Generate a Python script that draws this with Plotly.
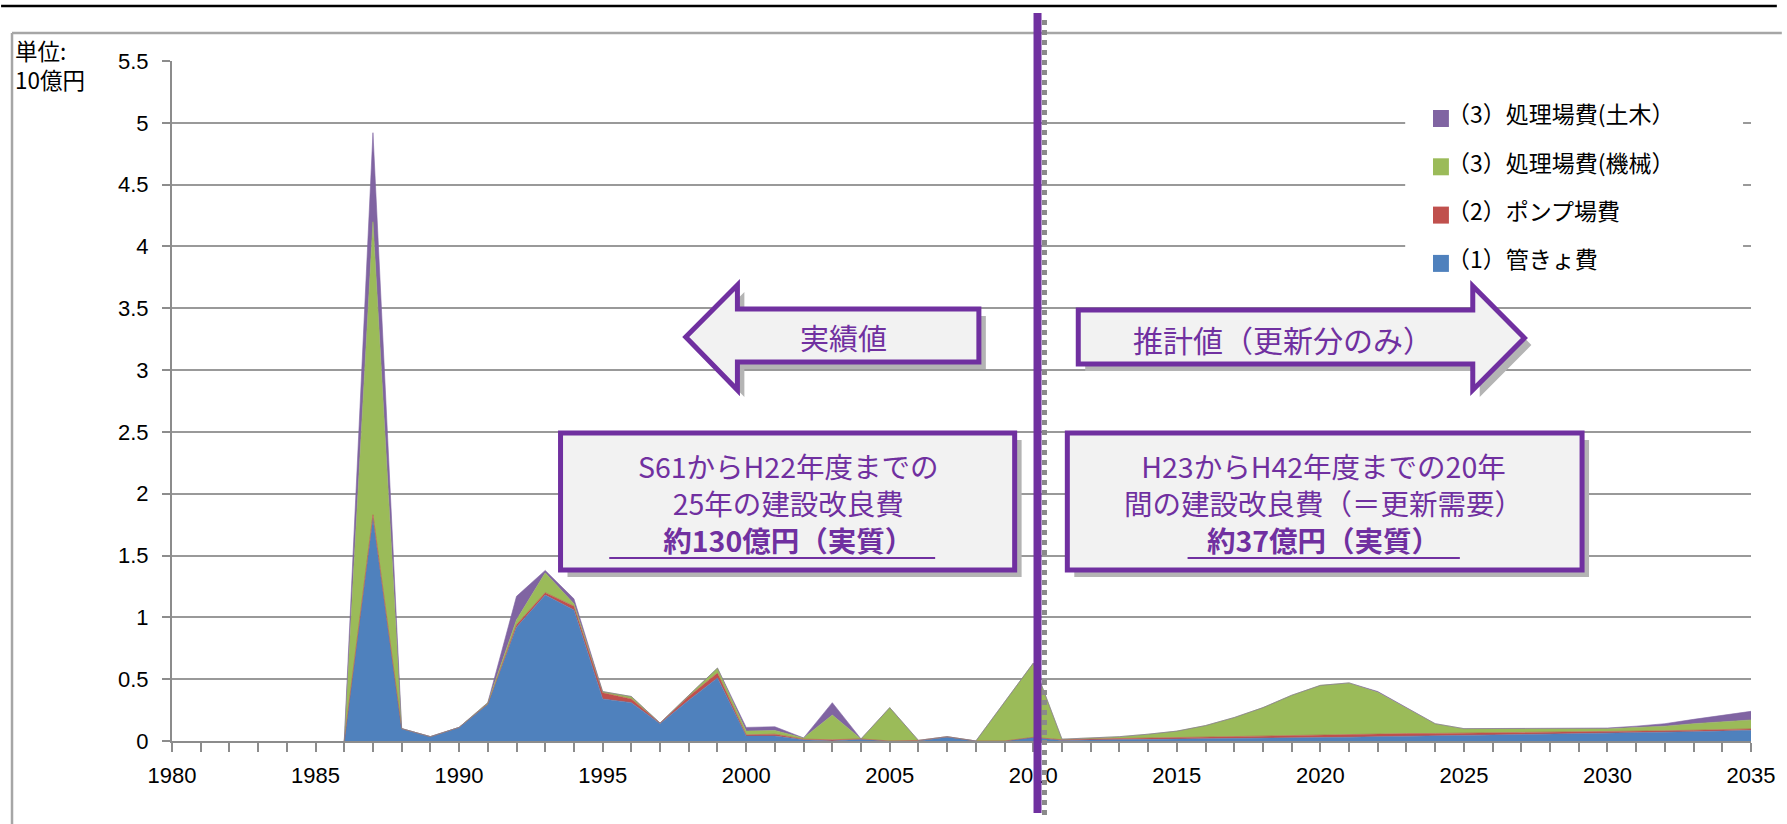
import plotly.graph_objects as go

years = list(range(1986, 2036))

kankyo = [0, 1.80, 0.10, 0.035, 0.11, 0.30, 0.92, 1.18, 1.06, 0.34,
          0.31, 0.14, 0.33, 0.51, 0.04, 0.04, 0.01, 0.0, 0.014, 0.0,
          0.0, 0.03, 0.0, 0.0, 0.03, 0.005, 0.008, 0.01, 0.012, 0.015,
          0.018, 0.02, 0.022, 0.025, 0.027, 0.03, 0.035, 0.04, 0.043, 0.046,
          0.049, 0.052, 0.055, 0.057, 0.06, 0.065, 0.07, 0.075, 0.08, 0.087]

pump = [0, 0.03, 0, 0, 0, 0, 0.02, 0.02, 0.03, 0.05,
        0.03, 0.005, 0.03, 0.04, 0.01, 0.015, 0.005, 0.01, 0.003, 0,
        0.005, 0.005, 0, 0, 0, 0.005, 0.008, 0.01, 0.012, 0.012,
        0.013, 0.015, 0.018, 0.02, 0.025, 0.025, 0.022, 0.02, 0.018, 0.017,
        0.016, 0.016, 0.016, 0.015, 0.015, 0.014, 0.013, 0.012, 0.011, 0.011]

kikai = [0, 2.37, 0, 0, 0, 0.01, 0.04, 0.16, 0.02, 0.01,
         0.02, 0, 0.01, 0.04, 0.03, 0.03, 0.01, 0.20, 0, 0.27,
         0, 0, 0, 0.31, 0.60, 0.005, 0.006, 0.015, 0.031, 0.053,
         0.094, 0.155, 0.23, 0.325, 0.398, 0.415, 0.338, 0.21, 0.079, 0.037,
         0.035, 0.032, 0.029, 0.028, 0.025, 0.031, 0.037, 0.053, 0.064, 0.072]

doboku = [0, 0.72, 0, 0, 0, 0, 0.19, 0.02, 0.04, 0,
          0, 0, 0, 0, 0.03, 0.03, 0, 0.10, 0, 0,
          0, 0, 0, 0, 0, 0, 0, 0, 0, 0,
          0, 0, 0, 0, 0, 0, 0.005, 0, 0, 0,
          0, 0, 0, 0, 0.005, 0.01, 0.02, 0.035, 0.05, 0.07]

series = [
    ("（1）管きょ費", kankyo, "#4F81BD"),
    ("（2）ポンプ場費", pump, "#C0504D"),
    ("（3）処理場費(機械）", kikai, "#9BBB59"),
    ("（3）処理場費(土木）", doboku, "#8064A2"),
]

x_ticks = list(range(1980, 2036))
x_ticktext = [str(v) if v % 5 == 0 else "" for v in x_ticks]

PURPLE = "#7030A0"
JP = "Noto Sans CJK JP"

fig = go.Figure()
for name, vals, col in series:
    fig.add_trace(go.Scatter(
        x=years, y=vals, name=name, mode="lines", stackgroup="one",
        line=dict(width=0.6, color=col), fillcolor=col, showlegend=False,
        hoverinfo="x+y+name"))

# layout geometry (pixels)
L, T, W, H = 172, 61, 1589, 680
FW, FH = 1787, 824


def px(x):
    return (x - L) / W


def py(y):
    return (T + H - y) / H


shapes = []
annotations = []

# page decorations
shapes.append(dict(type="line", xref="paper", yref="paper", x0=px(0), x1=px(FW), y0=py(6), y1=py(6),
                   line=dict(color="black", width=2.5), layer="above"))
shapes.append(dict(type="line", xref="paper", yref="paper", x0=px(11), x1=px(FW + 5), y0=py(33), y1=py(33),
                   line=dict(color="#a6a6a6", width=2.5), layer="above"))
shapes.append(dict(type="line", xref="paper", yref="paper", x0=px(11), x1=px(11), y0=py(33), y1=py(FH + 5),
                   line=dict(color="#a6a6a6", width=2.5), layer="above"))

# legend (white box over gridlines)
shapes.append(dict(type="rect", xref="paper", yref="paper", x0=px(1413), x1=px(1753), y0=py(90), y1=py(288),
                   fillcolor="white", line=dict(width=0), layer="above"))
leg_y = [118.5, 166.8, 215.1, 263.4]
for (name, vals, col), yy in zip(reversed(series), leg_y):
    shapes.append(dict(type="rect", xref="paper", yref="paper", x0=px(1441), x1=px(1457),
                       y0=py(yy - 8.5), y1=py(yy + 8.5), fillcolor=col, line=dict(width=0), layer="above"))
    annotations.append(dict(xref="paper", yref="paper", x=px(1453), y=py(yy - 5), text=name,
                            showarrow=False, xanchor="left", yanchor="middle",
                            font=dict(family=JP, size=23, color="black")))

# unit label
annotations.append(dict(xref="paper", yref="paper", x=px(12), y=py(65), text="単位:<br>10億円", showarrow=False,
                        xanchor="left", yanchor="middle", align="left",
                        font=dict(family=JP, size=22.5, color="black")))


def poly(points):
    s = "M " + " L ".join(f"{px(a):.5f},{py(b):.5f}" for a, b in points) + " Z"
    return s


SH = "#b4b4b4"

# vertical divider
shapes.append(dict(type="line", xref="paper", yref="paper", x0=px(1050), x1=px(1050), y0=py(20), y1=py(820),
                   line=dict(color="#8a8a8a", width=5, dash="dot"), layer="above"))
shapes.append(dict(type="line", xref="paper", yref="paper", x0=px(1043), x1=px(1043), y0=py(13), y1=py(813),
                   line=dict(color=PURPLE, width=8), layer="above"))

# left arrow
la = [(689, 337), (741, 285), (741, 309), (984, 309), (984, 362), (741, 362), (741, 390)]
shapes.append(dict(type="path", xref="paper", yref="paper", path=poly([(a + 7, b + 7) for a, b in la]),
                   fillcolor=SH, line=dict(width=0), layer="above"))
shapes.append(dict(type="path", xref="paper", yref="paper", path=poly(la),
                   fillcolor="#F2F2F2", line=dict(color=PURPLE, width=5), layer="above"))
annotations.append(dict(xref="paper", yref="paper", x=px(848), y=py(337), text="実績値", showarrow=False,
                        xanchor="center", yanchor="middle", font=dict(family=JP, size=29, color=PURPLE)))

# right arrow
ra = [(1084, 310), (1481, 310), (1481, 286), (1533, 338), (1481, 390), (1481, 364), (1084, 364)]
shapes.append(dict(type="path", xref="paper", yref="paper", path=poly([(a + 7, b + 7) for a, b in ra]),
                   fillcolor=SH, line=dict(width=0), layer="above"))
shapes.append(dict(type="path", xref="paper", yref="paper", path=poly(ra),
                   fillcolor="#F2F2F2", line=dict(color=PURPLE, width=5), layer="above"))
annotations.append(dict(xref="paper", yref="paper", x=px(1290), y=py(339), text="推計値（更新分のみ）",
                        showarrow=False, xanchor="center", yanchor="middle",
                        font=dict(family=JP, size=30, color=PURPLE)))

# boxes
boxes = [
    (563, 1020, ["S61からH22年度までの", "25年の建設改良費", "<b>約130億円（実質）</b>"], 792, (612, 940)),
    (1073, 1591, ["H23からH42年度までの20年", "間の建設改良費（＝更新需要）", "<b>約37億円（実質）</b>"], 1331, (1194, 1468)),
]
for x0, x1, lines, cx, ul in boxes:
    shapes.append(dict(type="rect", xref="paper", yref="paper", x0=px(x0 + 7), x1=px(x1 + 7),
                       y0=py(433 + 7), y1=py(570 + 7), fillcolor=SH, line=dict(width=0), layer="above"))
    shapes.append(dict(type="rect", xref="paper", yref="paper", x0=px(x0), x1=px(x1),
                       y0=py(433), y1=py(570), fillcolor="#F2F2F2", line=dict(color=PURPLE, width=5),
                       layer="above"))
    annotations.append(dict(xref="paper", yref="paper", x=px(cx), y=py(502), text="<br>".join(lines),
                            showarrow=False, xanchor="center", yanchor="middle", align="center",
                            font=dict(family=JP, size=28.5, color=PURPLE)))
    shapes.append(dict(type="line", xref="paper", yref="paper", x0=px(ul[0]), x1=px(ul[1]),
                       y0=py(558), y1=py(558), line=dict(color=PURPLE, width=2), layer="above"))

fig.update_layout(
    width=FW, height=FH,
    margin=dict(l=L, r=FW - L - W, t=T, b=FH - T - H, pad=0),
    paper_bgcolor="white", plot_bgcolor="white",
    showlegend=False,
    shapes=shapes, annotations=annotations,
    xaxis=dict(range=[1980, 2035], tickmode="array", tickvals=x_ticks, ticktext=x_ticktext,
               ticks="outside", ticklen=9, tickwidth=2, tickcolor="#8c8c8c",
               showline=True, linecolor="#8c8c8c", linewidth=2, showgrid=False, zeroline=False,
               tickfont=dict(family="Liberation Sans, Arial", size=22, color="black"),
               ticklabelstandoff=5),
    yaxis=dict(range=[0, 5.5], dtick=0.5, tick0=0, ticks="outside", ticklen=8, tickwidth=2,
               tickcolor="#8c8c8c", showline=True, linecolor="#8c8c8c", linewidth=2,
               showgrid=True, gridcolor="#999999", gridwidth=2, zeroline=False,
               tickfont=dict(family="Liberation Sans, Arial", size=22, color="black"),
               ticklabelstandoff=9),
)

fig.write_html("out.html")
